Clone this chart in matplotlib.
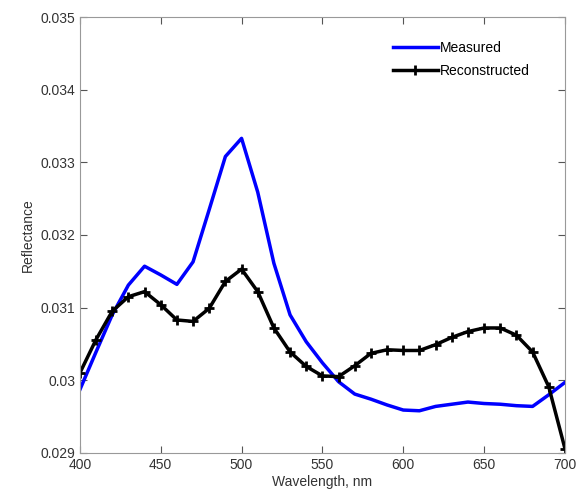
import numpy as np
import matplotlib
matplotlib.use('Agg')
import matplotlib.pyplot as plt
from matplotlib.ticker import FixedFormatter

plt.rcParams['font.family'] = ['Liberation Sans', 'DejaVu Sans']

wavelength = np.arange(400, 701, 10)
measured = [0.02987, 0.03039, 0.03090, 0.03131, 0.03157, 0.03145, 0.03132, 0.03163,
            0.03235, 0.03308, 0.03333, 0.03259, 0.03161, 0.03090, 0.03053, 0.03024,
            0.02998, 0.02981, 0.02974, 0.02966, 0.02959, 0.02958, 0.02964, 0.02967,
            0.02970, 0.02968, 0.02967, 0.02965, 0.02964, 0.02980, 0.02997]
reconstructed = [0.03010, 0.03056, 0.03095, 0.03115, 0.03122, 0.03104, 0.03083, 0.03081,
                 0.03099, 0.03136, 0.03153, 0.03122, 0.03072, 0.03039, 0.03019, 0.03006,
                 0.03005, 0.03020, 0.03037, 0.03042, 0.03041, 0.03041, 0.03049, 0.03059,
                 0.03067, 0.03072, 0.03072, 0.03062, 0.03039, 0.02991, 0.02906]
yticks = [0.029, 0.030, 0.031, 0.032, 0.033, 0.034, 0.035]
ytick_labels = ['0.029', '0.03', '0.031', '0.032', '0.033', '0.034', '0.035']

fig = plt.figure(figsize=(5.83, 5.01), dpi=100)
ax = fig.add_axes([0.137, 0.096, 0.832, 0.870])

ax.plot(wavelength, measured, color='#0000ff', linewidth=2.5, label='Measured')
ax.plot(wavelength, reconstructed, color='black', linewidth=2.5, marker='+',
        markersize=7, markeredgewidth=2, label='Reconstructed')

ax.set_xlim(400, 700)
ax.set_ylim(0.029, 0.035)
ax.set_xticks(np.arange(400, 701, 50))
ax.set_yticks(yticks)
ax.yaxis.set_major_formatter(FixedFormatter(ytick_labels))
ax.tick_params(direction='in', length=5, labelsize=10, top=True, right=True,
               color='#555555', labelcolor='#333333')
for s in ax.spines.values():
    s.set_color('#999999')

ax.set_xlabel('Wavelength, nm', fontsize=10, color='#333333', labelpad=2)
ax.set_ylabel('Reflectance', fontsize=10, color='#333333', labelpad=4)

ax.legend(loc='upper right', frameon=False, fontsize=10, handlelength=3.2,
          handletextpad=0.2, borderaxespad=0.6, labelspacing=0.65,
          bbox_to_anchor=(0.957, 0.977))

fig.savefig('out.png', dpi=100)
